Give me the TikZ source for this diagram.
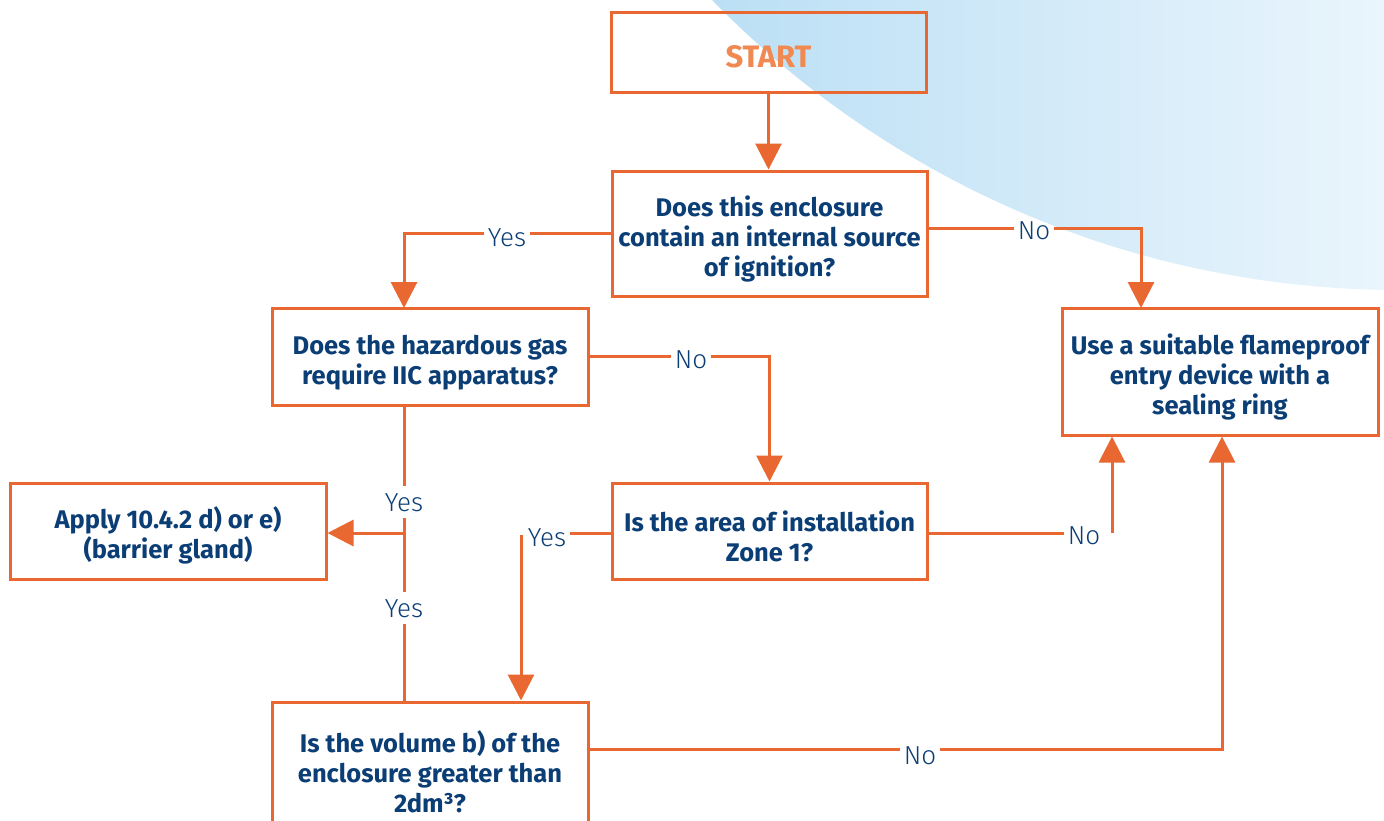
\documentclass[tikz,border=0pt]{standalone}
\usepackage{fontspec}
\setmainfont{Fira Sans}
\newfontfamily\lightfont[UprightFont=* Light]{Fira Sans}
\usetikzlibrary{arrows.meta}
\definecolor{lineor}{RGB}{233,103,48}
\definecolor{startor}{RGB}{240,138,82}
\definecolor{txtblue}{RGB}{12,62,118}
\definecolor{blueA}{RGB}{186,223,245}
\definecolor{blueB}{RGB}{234,245,252}
\newcommand\dnstrut{\rule{0pt}{31pt}}
\tikzset{
  box/.style={draw=lineor, line width=3pt, fill=white, minimum width=#1, inner sep=0pt,
    align=center, text=txtblue, font=\fontsize{25.5}{30}\selectfont\bfseries},
  lbl/.style={text=txtblue, font=\lightfont\fontsize{26}{30}\selectfont, inner xsep=4pt, inner ysep=7pt,
    text height=18pt, text depth=0pt},
  ln/.style={draw=lineor, line width=3pt},
  arr/.style={ln, -{Triangle[width=26pt,length=26pt]}},
}
\begin{document}
\begin{tikzpicture}[x=1pt,y=-1pt]
\useasboundingbox (0,0) rectangle (1384,820);
\fill[white] (0,0) rectangle (1384,820);
% background blue arc
\begin{scope}
  \clip (1400,-671) circle (961pt);
  \shade[left color=blueA, right color=blueB] (700,0) rectangle (1384,300);
\end{scope}
% boxes
\node[box=315pt, minimum height=80pt, fill=none, text=startor,
  font=\fontsize{31}{34}\selectfont\bfseries, text height=31pt, text depth=0pt] (start) at (768.5,52) {START};
\node[box=315pt, minimum height=125pt] (q1) at (769.5,233.5) {\dnstrut Does this enclosure\\contain an internal source\\of ignition?};
\node[box=316pt, minimum height=97pt] (q2) at (430,356.5) {\dnstrut Does the hazardous gas\\require IIC apparatus?};
\node[box=316pt, minimum height=127pt] (use) at (1220,371.5) {\dnstrut Use a suitable flameproof\\entry device with a\\sealing ring};
\node[box=316pt, minimum height=96pt] (apply) at (168,531) {\dnstrut Apply 10.4.2 d) or e)\\(barrier gland)};
\node[box=315pt, minimum height=96pt] (zone) at (769.5,531) {\dnstrut Is the area of installation\\Zone 1?};
\node[box=316pt, minimum height=140pt] (vol) at (430,772) {Is the volume b) of the\\enclosure greater than\\2dm³?};
% labels
\node[lbl] (yesA) at (507,237) {Yes};
\node[lbl] (noA) at (1034,230) {No};
\node[lbl] (noB) at (691,359) {No};
\node[lbl] (yesC) at (404,502) {Yes};
\node[lbl] (yesD) at (404,608) {Yes};
\node[lbl] (yesE) at (547,537) {Yes};
\node[lbl] (noC) at (1084,535) {No};
\node[lbl] (noD) at (920,755) {No};
% coordinates
\coordinate (q2in) at (404,308);
\coordinate (useinA) at (1141,308);
\coordinate (br) at (404,533);
\coordinate (c2) at (521,535);
\coordinate (c3) at (1112,533);
\coordinate (c4) at (1222,749);
% connectors
\draw[arr] (start.south) -- (start.south |- q1.north);
\draw[ln] (q1.west |- 0,233) -- (yesA.east |- 0,233);
\draw[arr] (yesA.west |- 0,233) -| (q2in);
\draw[ln] (q1.east |- 0,228) -- (noA.west |- 0,228);
\draw[arr] (noA.east |- 0,228) -| (useinA);
\draw[ln] (q2.east |- 0,356) -- (noB.west |- 0,356);
\draw[arr] (noB.east |- 0,356) -| (zone.north);
\draw[ln] (q2in |- q2.south) -- (yesC.north);
\draw[ln] (yesC.south) -- (yesD.north);
\draw[ln] (yesD.south) -- (yesD.south |- vol.north);
\draw[arr] (br) -- (br -| apply.east);
\draw[ln] (zone.west |- br) -- (yesE.east |- br);
\draw[arr] (c2) -- (c2 |- vol.north);
\draw[ln] (zone.east |- c3) -- (noC.west |- c3);
\draw[arr] (c3) -- (c3 |- use.south);
\draw[ln] (vol.east |- c4) -- (noD.west |- c4);
\draw[arr] (noD.east |- c4) -- (c4) -- (c4 |- use.south);
\end{tikzpicture}
\end{document}
